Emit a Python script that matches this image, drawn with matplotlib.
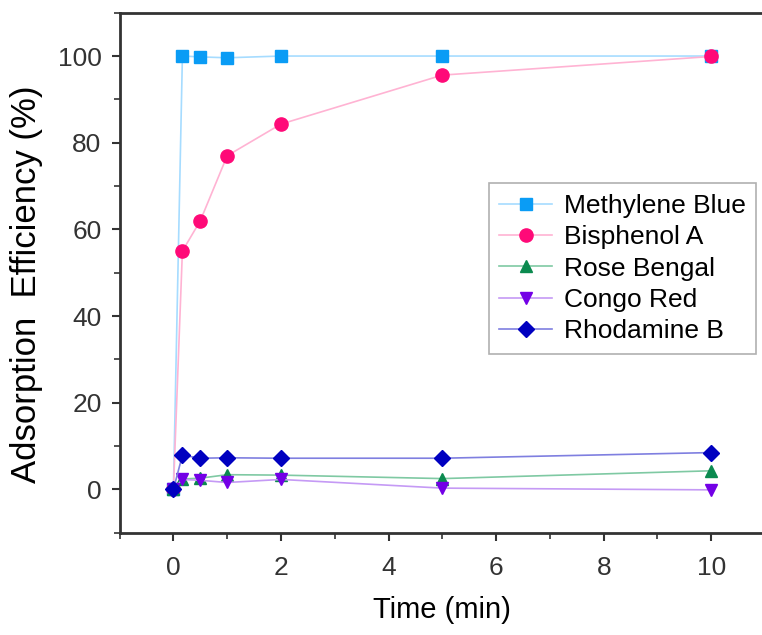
import matplotlib
matplotlib.use('Agg')
import matplotlib.pyplot as plt
from matplotlib.ticker import MultipleLocator

plt.rcParams['font.family'] = ['Liberation Sans', 'DejaVu Sans']

# data
time_min = [0, 0.167, 0.5, 1, 2, 5, 10]
methylene_blue = [0, 100, 99.8, 99.6, 100, 100, 100]
bisphenol_a = [0, 55, 62, 77, 84.3, 95.6, 99.9]
rose_bengal = [0, 2.4, 2.6, 3.4, 3.3, 2.5, 4.3]
congo_red = [0, 2.3, 2.1, 1.6, 2.3, 0.3, -0.1]
rhodamine_b = [0, 7.9, 7.2, 7.3, 7.2, 7.2, 8.5]

labels = ['Methylene Blue', 'Bisphenol A', 'Rose Bengal', 'Congo Red', 'Rhodamine B']
series = [methylene_blue, bisphenol_a, rose_bengal, congo_red, rhodamine_b]
markers = ['s', 'o', '^', 'v', 'D']
marker_colors = ['#0a9cf5', '#ff0a78', '#0b8a4f', '#7300e6', '#0000c0']
line_colors = ['#a6dcff', '#ffb3d3', '#7fc9a3', '#c59af5', '#7f7fe0']
marker_sizes = [8.5, 9.5, 9, 9, 8]

fig = plt.figure(figsize=(7.62, 6.35), dpi=100)
ax = fig.add_axes([0.157, 0.161, 0.847, 0.819])

for y, lab, m, mc, lc, ms in zip(series, labels, markers, marker_colors, line_colors, marker_sizes):
    ax.plot(time_min, y, color=lc, lw=1.2, marker=m, ms=ms,
            markerfacecolor=mc, markeredgecolor=mc, label=lab)

ax.set_xlim(-1, 11)
ax.set_ylim(-10, 110)
ax.xaxis.set_major_locator(MultipleLocator(2))
ax.xaxis.set_minor_locator(MultipleLocator(1))
ax.yaxis.set_major_locator(MultipleLocator(20))
ax.yaxis.set_minor_locator(MultipleLocator(10))
ax.tick_params(which='major', direction='out', length=6, width=1.5, labelsize=19,
               colors='#333333', pad=7)
ax.tick_params(axis='x', which='major', pad=11)
ax.tick_params(which='minor', direction='out', length=4, width=1.2, colors='#333333')
for sp in ax.spines.values():
    sp.set_linewidth(2)
    sp.set_color('#333333')

ax.set_xlabel('Time (min)', fontsize=21, labelpad=11)
ax.set_ylabel('Adsorption  Efficiency (%)', fontsize=25)
ax.yaxis.set_label_coords(-0.118, 0.477)

leg = ax.legend(loc='upper left', bbox_to_anchor=(0.572, 0.672), fontsize=19,
                frameon=True, fancybox=False, edgecolor='#b0b0b0', framealpha=1,
                handlelength=2.0, labelspacing=0.28, borderpad=0.4, handletextpad=0.45,
                borderaxespad=0)
leg.get_frame().set_linewidth(1.2)

fig.savefig('out.png', dpi=100)
